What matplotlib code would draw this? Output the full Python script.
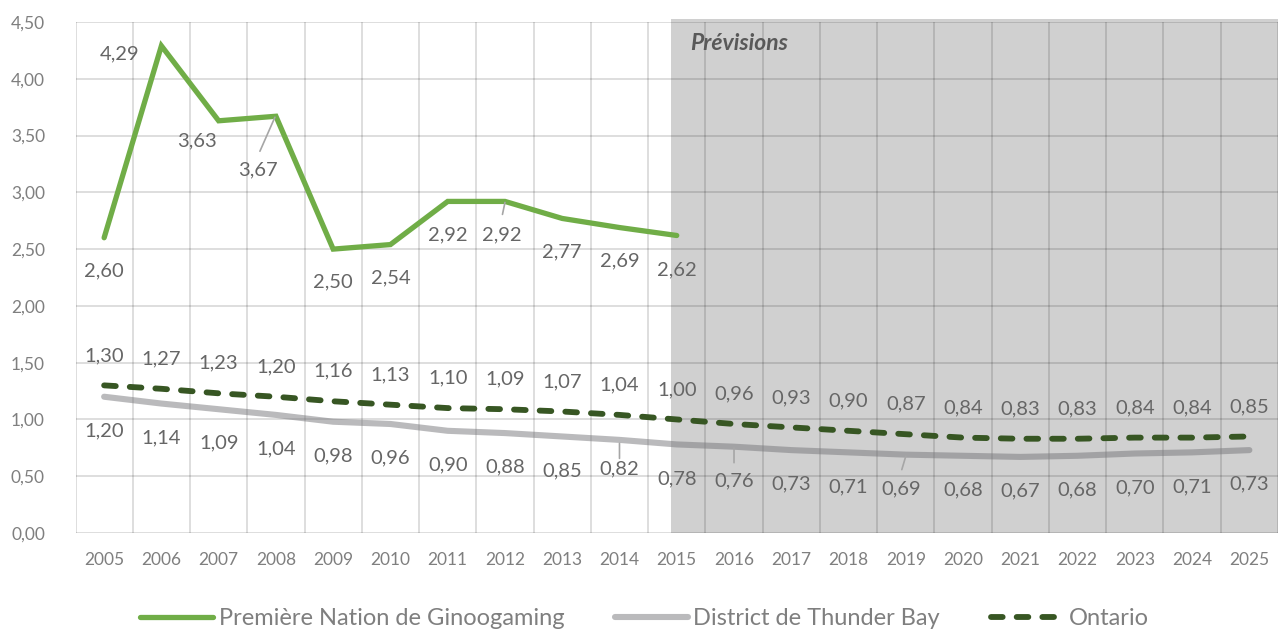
import matplotlib
matplotlib.use("Agg")
import matplotlib.pyplot as plt
import matplotlib.transforms as mtransforms
from matplotlib.patches import Rectangle

plt.rcParams['font.family'] = ['Lato', 'DejaVu Sans']

years = list(range(2005, 2026))
gino_years = list(range(2005, 2016))
gino = [2.60, 4.29, 3.63, 3.67, 2.50, 2.54, 2.92, 2.92, 2.77, 2.69, 2.62]
thunder = [1.20, 1.14, 1.09, 1.04, 0.98, 0.96, 0.90, 0.88, 0.85, 0.82, 0.78,
           0.76, 0.73, 0.71, 0.69, 0.68, 0.67, 0.68, 0.70, 0.71, 0.73]
ontario = [1.30, 1.27, 1.23, 1.20, 1.16, 1.13, 1.10, 1.09, 1.07, 1.04, 1.00,
           0.96, 0.93, 0.90, 0.87, 0.84, 0.83, 0.83, 0.84, 0.84, 0.85]
yticks = [0.0, 0.5, 1.0, 1.5, 2.0, 2.5, 3.0, 3.5, 4.0, 4.5]
names = ["Première Nation de Ginoogaming", "District de Thunder Bay", "Ontario"]
forecast_start = 2015

def fr(v):
    return f"{v:.2f}".replace(".", ",")

fig = plt.figure(figsize=(12.78, 6.29), dpi=100)
ax = fig.add_axes([75.5 / 1278, 1 - 533 / 629, 1202.5 / 1278, 511 / 629])
ax.set_xlim(2004.5, 2025.5)
ax.set_ylim(0, 4.5)

# forecast shading
ax.add_patch(Rectangle((forecast_start - 0.095, 0), 2025.5 - forecast_start + 0.095, 4.53,
                       facecolor='#d0d0d0', edgecolor='none', zorder=0, clip_on=False))

# grid
for yv in yticks:
    ax.axhline(yv, color='black', alpha=0.14, lw=1.3, zorder=0.5)
for k in range(len(years) + 1):
    ax.axvline(2004.5 + k, color='black', alpha=0.14, lw=1.3, zorder=0.5)

for s in ax.spines.values():
    s.set_visible(False)
ax.set_yticks(yticks)
ax.set_yticklabels([fr(v) for v in yticks])
ax.set_xticks(years)
ax.set_xticklabels([str(y) for y in years])
ax.tick_params(length=0, labelsize=12.5, labelcolor='#7f7f7f')
ax.tick_params(axis='y', pad=22)
ax.tick_params(axis='x', pad=14)

l1, = ax.plot(gino_years, gino, color='#70ad47', lw=3.8, solid_capstyle='round',
              solid_joinstyle='miter', zorder=3)
l2, = ax.plot(years, thunder, color='#76767a', alpha=0.5, lw=4.4, solid_capstyle='round', zorder=3)
l3, = ax.plot(years, ontario, color='#375623', lw=4.2, dashes=(2, 2.4),
              dash_capstyle='round', zorder=3)

lab_color = '#666666'
lab_size = 14.5

def label(x, y, text, dx, dy):
    ax.annotate(text, (x, y), xytext=(dx, -dy), textcoords='offset pixels',
                ha='center', va='center', fontsize=lab_size, color=lab_color, zorder=5)

def leader(x, y, p0, p1):
    t = mtransforms.offset_copy(ax.transData, fig=fig, x=p1[0], y=-p1[1], units='dots')
    ax.annotate('', xy=(x, y), xycoords=t,
                xytext=(p0[0] - p1[0], -(p0[1] - p1[1])), textcoords='offset pixels',
                arrowprops=dict(arrowstyle='-', color='#a6a6a6', lw=1.2,
                                shrinkA=0, shrinkB=0), zorder=4)

gino_off = [(0, 33), (-42, 8), (-22, 20), (-18, 54), (0, 33), (0, 33), (0, 33),
            (-3, 33), (0, 33), (0, 33), (0, 34)]
for x, v, (dx, dy) in zip(gino_years, gino, gino_off):
    label(x, v, fr(v), dx, dy)
leader(2008, gino[3], (-16, 35), (-1, 1))
leader(2012, gino[7], (-2.5, 13), (0, 1))

tb_off = {2014: (0, 29), 2019: (-5, 34)}
for x, v in zip(years, thunder):
    dx, dy = tb_off.get(x, (0, 34))
    label(x, v, fr(v), dx, dy)
leader(2014, thunder[9], (0, 18.5), (0, 3.5))
leader(2016, thunder[11], (0, 16), (0, 1))
leader(2019, thunder[14], (-4, 15), (0, 1.5))

for x, v in zip(years, ontario):
    label(x, v, fr(v), 0, -30)

ax.text(forecast_start + 0.24, 4.31, "Prévisions", fontsize=16.5, fontweight='bold',
        fontstyle='italic', color='#595959', ha='left', va='center', zorder=5)

leg = fig.legend([l1, l2, l3], names, loc='center', bbox_to_anchor=(0.5045, 0.016),
                 ncol=3, frameon=False, fontsize=17, handlelength=3.1, handletextpad=0.22,
                 columnspacing=2.15, labelcolor='#7f7f7f')

fig.savefig("out.png", dpi=100)
